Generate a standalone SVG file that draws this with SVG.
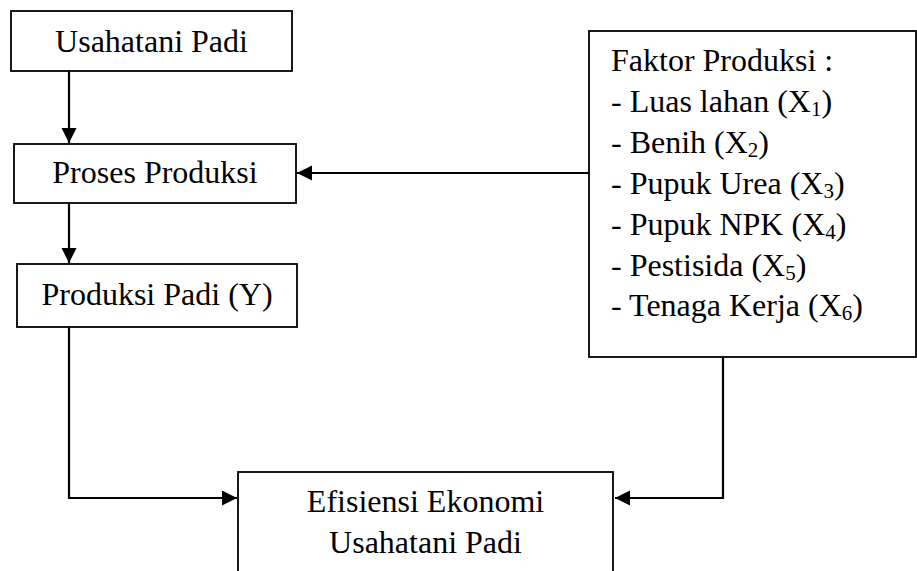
<svg xmlns="http://www.w3.org/2000/svg" width="917" height="571" viewBox="0 0 917 571">
<style>
.box{fill:#fff;stroke:#000;stroke-width:1.8}
.t{font-family:"Liberation Serif","Times New Roman",serif;font-size:32px;fill:#000}
.c{text-anchor:middle}
.con{fill:none;stroke:#000;stroke-width:2.2}
</style>
<defs>
<marker id="ah" markerUnits="userSpaceOnUse" markerWidth="16" markerHeight="16" refX="15" refY="7.5" orient="auto">
<path d="M0,0 L15,7.5 L0,15 z" fill="#000"/>
</marker>
</defs>
<rect width="917" height="571" fill="#fff"/>
<g id="connectors">
<line class="con" x1="69" y1="71" x2="69" y2="143" marker-end="url(#ah)"/>
<line class="con" x1="69" y1="203" x2="69" y2="263" marker-end="url(#ah)"/>
<line class="con" x1="589" y1="173" x2="297" y2="173" marker-end="url(#ah)"/>
<polyline class="con" points="69,327 69,498 237,498" marker-end="url(#ah)"/>
<polyline class="con" points="723,357 723,498 615,498" marker-end="url(#ah)"/>
</g>
<g id="usahatani">
<rect class="box" x="11" y="11" width="281" height="60"/>
<text class="t c" x="151.5" y="52">Usahatani Padi</text>
</g>
<g id="proses">
<rect class="box" x="14" y="144" width="282" height="59"/>
<text class="t c" x="155" y="183">Proses Produksi</text>
</g>
<g id="produksi">
<rect class="box" x="17" y="264" width="280" height="63"/>
<text class="t c" x="157" y="305">Produksi Padi (Y)</text>
</g>
<g id="faktor">
<rect class="box" x="589" y="31" width="327" height="326"/>
<text class="t" x="611" y="71">Faktor Produksi :</text>
<text class="t" x="611" y="112">- Luas lahan (X<tspan font-size="21" dy="4">1</tspan><tspan dy="-4">)</tspan></text>
<text class="t" x="611" y="153">- Benih (X<tspan font-size="21" dy="4">2</tspan><tspan dy="-4">)</tspan></text>
<text class="t" x="611" y="194">- Pupuk Urea (X<tspan font-size="21" dy="4">3</tspan><tspan dy="-4">)</tspan></text>
<text class="t" x="611" y="235">- Pupuk NPK (X<tspan font-size="21" dy="4">4</tspan><tspan dy="-4">)</tspan></text>
<text class="t" x="611" y="276">- Pestisida (X<tspan font-size="21" dy="4">5</tspan><tspan dy="-4">)</tspan></text>
<text class="t" x="611" y="316">- Tenaga Kerja (X<tspan font-size="21" dy="4">6</tspan><tspan dy="-4">)</tspan></text>
</g>
<g id="efisiensi">
<rect class="box" x="238" y="472" width="375" height="120"/>
<text class="t c" x="425.5" y="512">Efisiensi Ekonomi</text>
<text class="t c" x="425.5" y="553">Usahatani Padi</text>
</g>
</svg>
